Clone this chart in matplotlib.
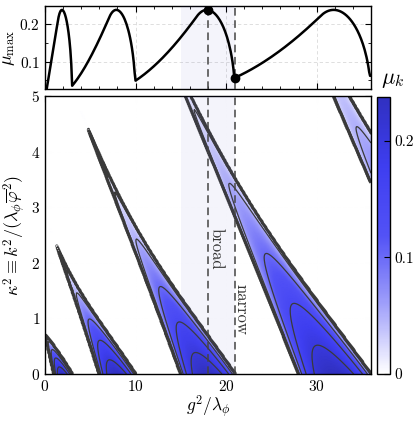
import numpy as np
import matplotlib
matplotlib.use("Agg")
import matplotlib.pyplot as plt
from matplotlib.colors import LinearSegmentedColormap
from matplotlib.ticker import MultipleLocator

plt.rcParams.update({
    "font.family": "serif",
    "font.serif": ["cmr10"],
    "mathtext.fontset": "cm",
    "axes.formatter.use_mathtext": True,
    "font.size": 11,
    "axes.unicode_minus": False,
})

# ---------------- data / parameters ----------------
q_values = np.linspace(0.0, 36.0, 361)          # g^2 / lambda_phi
kappa2_values = np.linspace(0.0, 5.0, 251)      # kappa^2
marked_q = [18.0, 21.0]
marked_labels = ["broad", "narrow"]
label_pos_q = [18.9, 21.7]
label_pos_k2 = [2.26, 1.16]
shade_range = [15.0, 21.0]
xticks_major = [0, 10, 20, 30]
yticks_main = [0, 1, 2, 3, 4, 5]
yticks_top = [0.1, 0.2]
cbar_ticks = [0, 0.1, 0.2]
cbar_ticklabels = ["0", "0.1", "0.2"]
contour_levels = [0.002, 0.02, 0.05, 0.1, 0.15, 0.2]

# ---------------- Floquet exponents of chi'' + (kappa^2 + q f^2) chi = 0, f'' = -f^3 ----------------
def agm(a, b):
    for _ in range(30):
        a, b = 0.5 * (a + b), np.sqrt(a * b)
    return a

Kell = np.pi / (2.0 * agm(1.0, np.sqrt(0.5)))
T = 2.0 * Kell
nsteps = 700
h = T / nsteps

# background f sampled at half steps
nsub = 8
hf = (h / 2) / nsub
f_half = np.empty(2 * nsteps + 1)
f, fp = 1.0, 0.0
f_half[0] = f
for i in range(2 * nsteps):
    for _ in range(nsub):
        a1f, a1p = fp, -f ** 3
        a2f, a2p = fp + hf / 2 * a1p, -(f + hf / 2 * a1f) ** 3
        a3f, a3p = fp + hf / 2 * a2p, -(f + hf / 2 * a2f) ** 3
        a4f, a4p = fp + hf * a3p, -(f + hf * a3f) ** 3
        f += hf / 6 * (a1f + 2 * a2f + 2 * a3f + a4f)
        fp += hf / 6 * (a1p + 2 * a2p + 2 * a3p + a4p)
    f_half[i + 1] = f

Q, K2 = np.meshgrid(q_values, kappa2_values)
X = np.zeros((2,) + Q.shape)
V = np.zeros((2,) + Q.shape)
X[0] = 1.0
V[1] = 1.0
for i in range(nsteps):
    wa = K2 + Q * f_half[2 * i] ** 2
    wb = K2 + Q * f_half[2 * i + 1] ** 2
    wd = K2 + Q * f_half[2 * i + 2] ** 2
    k1x, k1v = V, -wa * X
    X2, V2 = X + h / 2 * k1x, V + h / 2 * k1v
    k2x, k2v = V2, -wb * X2
    X3, V3 = X + h / 2 * k2x, V + h / 2 * k2v
    k3x, k3v = V3, -wb * X3
    X4, V4 = X + h * k3x, V + h * k3v
    k4x, k4v = V4, -wd * X4
    X = X + h / 6 * (k1x + 2 * k2x + 2 * k3x + k4x)
    V = V + h / 6 * (k1v + 2 * k2v + 2 * k3v + k4v)

trace = X[0] + V[1]
mu = np.arccosh(np.maximum(np.abs(trace) / 2.0, 1.0)) / T
mu_max = mu.max(axis=0)
marked_mu = [np.interp(qq, q_values, mu_max) for qq in marked_q]

# ---------------- figure ----------------
W, H = 415, 421
fig = plt.figure(figsize=(W / 100, H / 100), dpi=100)
ax_top = fig.add_axes([45 / W, 1 - 89.5 / H, 326 / W, 83.5 / H])
ax = fig.add_axes([45 / W, 1 - 374 / H, 326 / W, 278 / H])
cax = fig.add_axes([377 / W, 1 - 374 / H, 13 / W, 277 / H])

cmap = LinearSegmentedColormap.from_list(
    "wb", ["#ffffff", "#a0a0fa", "#5252f6", "#3e3ef0", "#3030c0"])
vmax = mu.max()

mesh = ax.pcolormesh(q_values, kappa2_values, mu, cmap=cmap, vmin=0, vmax=vmax,
                     shading="gouraud", rasterized=True, zorder=1)
ax.contour(q_values, kappa2_values, mu, levels=contour_levels,
           colors="#3a3a3a", linewidths=[2.2, 0.9, 0.9, 0.9, 0.9, 0.9], zorder=2)

for a in (ax, ax_top):
    a.axvspan(shade_range[0], shade_range[1], color="#5050c0", alpha=0.06,
              lw=0, zorder=3)
    for qq in marked_q:
        a.axvline(qq, color="#444444", ls=(0, (5, 3)), lw=1.1, zorder=4)
    a.grid(True, which="major", color="#d9d9d9", ls=(0, (4, 3)), lw=0.6)
    a.set_axisbelow(True)
    a.set_xlim(0, 36)
    a.xaxis.set_major_locator(MultipleLocator(10))
    a.xaxis.set_minor_locator(MultipleLocator(2))
    a.tick_params(which="both", direction="in", top=True, right=True)
    a.tick_params(which="major", length=4, width=0.8)
    a.tick_params(which="minor", length=2.2, width=0.6)
    for s in a.spines.values():
        s.set_linewidth(1.0)

ax_top.plot(q_values, mu_max, color="black", lw=1.8, zorder=5)
ax_top.plot(marked_q, marked_mu, "o", color="black", ms=6, zorder=6)
ax_top.set_ylim(0.026, 0.248)
ax_top.set_yticks(yticks_top)
ax_top.yaxis.set_minor_locator(MultipleLocator(0.05))
ax_top.set_xticklabels([])
ax_top.set_ylabel(r"$\mu_{\rm max}$", fontsize=13, labelpad=2)

ax.set_ylim(0, 5)
ax.set_yticks(yticks_main)
ax.yaxis.set_minor_locator(MultipleLocator(0.5))
ax.set_xticks(xticks_major)
ax.set_xlabel(r"$g^2/\lambda_\phi$", fontsize=12.5, labelpad=0)
ax.set_ylabel(r"$\kappa^2 \equiv k^2/(\lambda_\phi \overline{\varphi}^2)$",
              fontsize=13, labelpad=2)

for lab, xq, yk in zip(marked_labels, label_pos_q, label_pos_k2):
    ax.text(xq, yk, lab, rotation=-90, ha="center", va="center",
            fontsize=12, color="#333333", zorder=6)

cb = fig.colorbar(mesh, cax=cax, ticks=cbar_ticks)
cb.ax.set_yticklabels(cbar_ticklabels)
cb.ax.tick_params(direction="in", length=4, width=0.8, which="major")
cb.ax.minorticks_off()
cb.outline.set_linewidth(1.0)
fig.text(393 / W, 1 - 80 / H, r"$\mu_k$", fontsize=16, ha="center", va="center")

fig.savefig("out.png", dpi=100)
